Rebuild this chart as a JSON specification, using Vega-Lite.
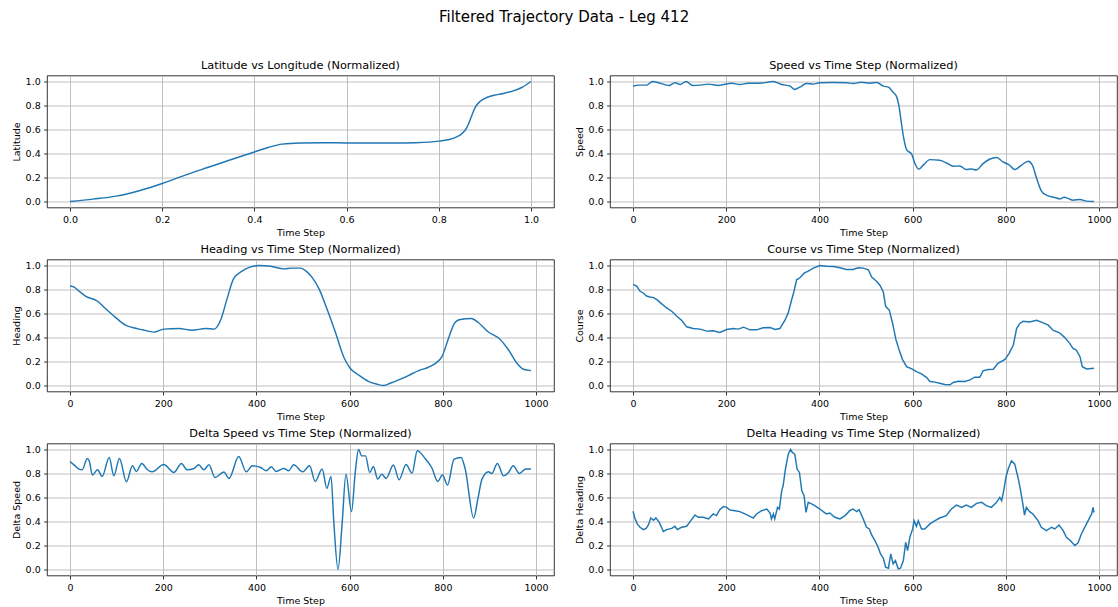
{
  "$schema": "https://vega.github.io/schema/vega-lite/v6.json",
  "padding": {"left": 10, "top": 9.5, "right": 0, "bottom": 0},
  "title": {"text": "Filtered Trajectory Data - Leg 412", "fontSize": 15, "offset": 34.7, "anchor": "middle", "frame": "bounds"},
  "datasets": {
    "latlon": [
      {"lon": 0.0, "lat": 0.0}, {"lon": 0.05, "lat": 0.02}, {"lon": 0.1, "lat": 0.045}, {"lon": 0.15, "lat": 0.09},
      {"lon": 0.2, "lat": 0.15}, {"lon": 0.25, "lat": 0.22}, {"lon": 0.3, "lat": 0.285}, {"lon": 0.35, "lat": 0.35},
      {"lon": 0.4, "lat": 0.413}, {"lon": 0.43, "lat": 0.45}, {"lon": 0.46, "lat": 0.478}, {"lon": 0.5, "lat": 0.488},
      {"lon": 0.55, "lat": 0.49}, {"lon": 0.6, "lat": 0.488}, {"lon": 0.65, "lat": 0.488}, {"lon": 0.7, "lat": 0.488},
      {"lon": 0.75, "lat": 0.49}, {"lon": 0.78, "lat": 0.495}, {"lon": 0.8, "lat": 0.503}, {"lon": 0.82, "lat": 0.515},
      {"lon": 0.84, "lat": 0.54}, {"lon": 0.85, "lat": 0.565}, {"lon": 0.86, "lat": 0.61}, {"lon": 0.865, "lat": 0.65},
      {"lon": 0.87, "lat": 0.7}, {"lon": 0.875, "lat": 0.75}, {"lon": 0.88, "lat": 0.79}, {"lon": 0.89, "lat": 0.835},
      {"lon": 0.9, "lat": 0.86}, {"lon": 0.91, "lat": 0.875}, {"lon": 0.92, "lat": 0.885}, {"lon": 0.94, "lat": 0.9},
      {"lon": 0.96, "lat": 0.92}, {"lon": 0.98, "lat": 0.95}, {"lon": 1.0, "lat": 1.0}
    ],
    "speed": [
      {"step": 0, "value": 0.96}, {"step": 11, "value": 0.97}, {"step": 29, "value": 0.97}, {"step": 42, "value": 1.0},
      {"step": 58, "value": 0.986}, {"step": 77, "value": 0.967}, {"step": 90, "value": 0.99}, {"step": 101, "value": 0.975},
      {"step": 114, "value": 1.0}, {"step": 128, "value": 0.967}, {"step": 144, "value": 0.97}, {"step": 162, "value": 0.978},
      {"step": 183, "value": 0.967}, {"step": 212, "value": 0.986}, {"step": 229, "value": 0.975}, {"step": 247, "value": 0.986},
      {"step": 272, "value": 0.986}, {"step": 301, "value": 1.0}, {"step": 319, "value": 0.975}, {"step": 337, "value": 0.961},
      {"step": 347, "value": 0.934}, {"step": 358, "value": 0.953}, {"step": 372, "value": 0.983}, {"step": 387, "value": 0.978},
      {"step": 401, "value": 0.99}, {"step": 430, "value": 0.992}, {"step": 458, "value": 0.99}, {"step": 472, "value": 0.983},
      {"step": 490, "value": 0.994}, {"step": 508, "value": 0.986}, {"step": 523, "value": 0.992}, {"step": 537, "value": 0.961},
      {"step": 548, "value": 0.953}, {"step": 558, "value": 0.91}, {"step": 565, "value": 0.878}, {"step": 571, "value": 0.787},
      {"step": 576, "value": 0.648}, {"step": 581, "value": 0.524}, {"step": 587, "value": 0.432}, {"step": 598, "value": 0.393},
      {"step": 605, "value": 0.316}, {"step": 613, "value": 0.269}, {"step": 623, "value": 0.305}, {"step": 637, "value": 0.349},
      {"step": 658, "value": 0.343}, {"step": 673, "value": 0.321}, {"step": 687, "value": 0.294}, {"step": 701, "value": 0.296},
      {"step": 715, "value": 0.266}, {"step": 726, "value": 0.271}, {"step": 737, "value": 0.263}, {"step": 751, "value": 0.316},
      {"step": 765, "value": 0.352}, {"step": 780, "value": 0.366}, {"step": 794, "value": 0.33}, {"step": 808, "value": 0.302},
      {"step": 819, "value": 0.266}, {"step": 833, "value": 0.302}, {"step": 848, "value": 0.335}, {"step": 857, "value": 0.302},
      {"step": 865, "value": 0.205}, {"step": 876, "value": 0.089}, {"step": 887, "value": 0.053}, {"step": 905, "value": 0.033},
      {"step": 916, "value": 0.022}, {"step": 925, "value": 0.036}, {"step": 944, "value": 0.011}, {"step": 959, "value": 0.017},
      {"step": 973, "value": 0.003}, {"step": 989, "value": 0.0}
    ],
    "heading": [
      {"step": 0, "value": 0.829}, {"step": 9, "value": 0.82}, {"step": 19, "value": 0.787}, {"step": 34, "value": 0.743},
      {"step": 59, "value": 0.702}, {"step": 76, "value": 0.641}, {"step": 98, "value": 0.566}, {"step": 119, "value": 0.503},
      {"step": 134, "value": 0.483}, {"step": 155, "value": 0.464}, {"step": 180, "value": 0.445}, {"step": 201, "value": 0.47},
      {"step": 234, "value": 0.475}, {"step": 262, "value": 0.461}, {"step": 291, "value": 0.475}, {"step": 309, "value": 0.47},
      {"step": 323, "value": 0.544}, {"step": 337, "value": 0.724}, {"step": 351, "value": 0.89}, {"step": 369, "value": 0.953},
      {"step": 386, "value": 0.986}, {"step": 405, "value": 1.0}, {"step": 430, "value": 0.994}, {"step": 459, "value": 0.972},
      {"step": 476, "value": 0.978}, {"step": 494, "value": 0.978}, {"step": 509, "value": 0.945}, {"step": 519, "value": 0.903},
      {"step": 534, "value": 0.807}, {"step": 551, "value": 0.641}, {"step": 569, "value": 0.448}, {"step": 587, "value": 0.24},
      {"step": 601, "value": 0.144}, {"step": 619, "value": 0.088}, {"step": 641, "value": 0.033}, {"step": 659, "value": 0.011},
      {"step": 673, "value": 0.0}, {"step": 687, "value": 0.019}, {"step": 705, "value": 0.047}, {"step": 726, "value": 0.083},
      {"step": 748, "value": 0.124}, {"step": 769, "value": 0.152}, {"step": 787, "value": 0.193}, {"step": 798, "value": 0.24},
      {"step": 812, "value": 0.392}, {"step": 826, "value": 0.525}, {"step": 837, "value": 0.55}, {"step": 861, "value": 0.558},
      {"step": 876, "value": 0.525}, {"step": 897, "value": 0.448}, {"step": 923, "value": 0.384}, {"step": 941, "value": 0.296},
      {"step": 959, "value": 0.185}, {"step": 973, "value": 0.135}, {"step": 989, "value": 0.124}
    ],
    "course": [
      {"step": 0, "value": 0.843}, {"step": 8, "value": 0.829}, {"step": 15, "value": 0.785}, {"step": 22, "value": 0.771},
      {"step": 29, "value": 0.746}, {"step": 36, "value": 0.738}, {"step": 44, "value": 0.732}, {"step": 51, "value": 0.715},
      {"step": 61, "value": 0.682}, {"step": 72, "value": 0.646}, {"step": 83, "value": 0.619}, {"step": 94, "value": 0.577},
      {"step": 104, "value": 0.544}, {"step": 115, "value": 0.489}, {"step": 129, "value": 0.475}, {"step": 144, "value": 0.47},
      {"step": 158, "value": 0.453}, {"step": 172, "value": 0.456}, {"step": 186, "value": 0.442}, {"step": 201, "value": 0.467},
      {"step": 215, "value": 0.475}, {"step": 226, "value": 0.47}, {"step": 237, "value": 0.486}, {"step": 251, "value": 0.464},
      {"step": 265, "value": 0.464}, {"step": 279, "value": 0.481}, {"step": 294, "value": 0.483}, {"step": 305, "value": 0.467},
      {"step": 315, "value": 0.475}, {"step": 326, "value": 0.544}, {"step": 333, "value": 0.605}, {"step": 340, "value": 0.71},
      {"step": 345, "value": 0.779}, {"step": 351, "value": 0.881}, {"step": 358, "value": 0.898}, {"step": 367, "value": 0.936},
      {"step": 376, "value": 0.953}, {"step": 387, "value": 0.978}, {"step": 401, "value": 1.0}, {"step": 415, "value": 0.994},
      {"step": 430, "value": 0.992}, {"step": 444, "value": 0.981}, {"step": 458, "value": 0.967}, {"step": 472, "value": 0.967},
      {"step": 483, "value": 0.981}, {"step": 494, "value": 0.978}, {"step": 505, "value": 0.964}, {"step": 512, "value": 0.903},
      {"step": 523, "value": 0.867}, {"step": 530, "value": 0.834}, {"step": 537, "value": 0.779}, {"step": 542, "value": 0.66},
      {"step": 550, "value": 0.627}, {"step": 557, "value": 0.517}, {"step": 564, "value": 0.384}, {"step": 571, "value": 0.296},
      {"step": 578, "value": 0.218}, {"step": 587, "value": 0.157}, {"step": 598, "value": 0.138}, {"step": 608, "value": 0.116},
      {"step": 619, "value": 0.097}, {"step": 630, "value": 0.066}, {"step": 637, "value": 0.033}, {"step": 648, "value": 0.028},
      {"step": 658, "value": 0.019}, {"step": 669, "value": 0.008}, {"step": 680, "value": 0.006}, {"step": 687, "value": 0.025},
      {"step": 698, "value": 0.036}, {"step": 712, "value": 0.033}, {"step": 723, "value": 0.047}, {"step": 733, "value": 0.069},
      {"step": 744, "value": 0.069}, {"step": 751, "value": 0.122}, {"step": 762, "value": 0.133}, {"step": 773, "value": 0.135},
      {"step": 783, "value": 0.185}, {"step": 798, "value": 0.218}, {"step": 807, "value": 0.268}, {"step": 816, "value": 0.337},
      {"step": 823, "value": 0.475}, {"step": 830, "value": 0.517}, {"step": 837, "value": 0.536}, {"step": 851, "value": 0.53},
      {"step": 866, "value": 0.544}, {"step": 880, "value": 0.522}, {"step": 891, "value": 0.503}, {"step": 901, "value": 0.461},
      {"step": 915, "value": 0.439}, {"step": 926, "value": 0.401}, {"step": 937, "value": 0.351}, {"step": 944, "value": 0.309},
      {"step": 951, "value": 0.296}, {"step": 959, "value": 0.24}, {"step": 964, "value": 0.157}, {"step": 973, "value": 0.138},
      {"step": 989, "value": 0.144}
    ],
    "dspeed": [
      {"step": 0, "value": 0.9}, {"step": 9, "value": 0.87}, {"step": 19, "value": 0.837}, {"step": 26, "value": 0.831},
      {"step": 37, "value": 0.925}, {"step": 41, "value": 0.906}, {"step": 48, "value": 0.787}, {"step": 59, "value": 0.831},
      {"step": 69, "value": 0.776}, {"step": 84, "value": 0.934}, {"step": 94, "value": 0.781}, {"step": 106, "value": 0.925},
      {"step": 121, "value": 0.731}, {"step": 134, "value": 0.864}, {"step": 142, "value": 0.817}, {"step": 154, "value": 0.884},
      {"step": 166, "value": 0.831}, {"step": 176, "value": 0.814}, {"step": 201, "value": 0.875}, {"step": 223, "value": 0.809},
      {"step": 239, "value": 0.884}, {"step": 251, "value": 0.831}, {"step": 266, "value": 0.842}, {"step": 276, "value": 0.873},
      {"step": 287, "value": 0.831}, {"step": 298, "value": 0.873}, {"step": 311, "value": 0.767}, {"step": 330, "value": 0.812},
      {"step": 341, "value": 0.759}, {"step": 362, "value": 0.942}, {"step": 378, "value": 0.814}, {"step": 391, "value": 0.864},
      {"step": 409, "value": 0.85}, {"step": 421, "value": 0.823}, {"step": 432, "value": 0.856}, {"step": 442, "value": 0.817},
      {"step": 459, "value": 0.842}, {"step": 469, "value": 0.823}, {"step": 480, "value": 0.873}, {"step": 499, "value": 0.814},
      {"step": 514, "value": 0.864}, {"step": 526, "value": 0.734}, {"step": 541, "value": 0.837}, {"step": 551, "value": 0.676},
      {"step": 560, "value": 0.776}, {"step": 566, "value": 0.393}, {"step": 575, "value": 0.0}, {"step": 584, "value": 0.393},
      {"step": 592, "value": 0.795}, {"step": 604, "value": 0.482}, {"step": 612, "value": 0.809}, {"step": 619, "value": 1.0},
      {"step": 626, "value": 0.947}, {"step": 634, "value": 0.947}, {"step": 643, "value": 0.809}, {"step": 651, "value": 0.859},
      {"step": 660, "value": 0.753}, {"step": 669, "value": 0.795}, {"step": 678, "value": 0.759}, {"step": 694, "value": 0.87},
      {"step": 706, "value": 0.748}, {"step": 721, "value": 0.875}, {"step": 734, "value": 0.803}, {"step": 745, "value": 0.989},
      {"step": 762, "value": 0.925}, {"step": 776, "value": 0.85}, {"step": 789, "value": 0.734}, {"step": 799, "value": 0.787},
      {"step": 810, "value": 0.704}, {"step": 824, "value": 0.92}, {"step": 839, "value": 0.934}, {"step": 848, "value": 0.837},
      {"step": 866, "value": 0.429}, {"step": 875, "value": 0.587}, {"step": 884, "value": 0.753}, {"step": 898, "value": 0.814},
      {"step": 905, "value": 0.8}, {"step": 917, "value": 0.884}, {"step": 930, "value": 0.781}, {"step": 941, "value": 0.809},
      {"step": 951, "value": 0.864}, {"step": 964, "value": 0.8}, {"step": 978, "value": 0.837}, {"step": 989, "value": 0.837}
    ],
    "dheading": [
      {"step": 0, "value": 0.485}, {"step": 4, "value": 0.427}, {"step": 9, "value": 0.38}, {"step": 15, "value": 0.352},
      {"step": 22, "value": 0.332}, {"step": 28, "value": 0.343}, {"step": 33, "value": 0.371}, {"step": 38, "value": 0.43},
      {"step": 44, "value": 0.41}, {"step": 49, "value": 0.43}, {"step": 56, "value": 0.395}, {"step": 65, "value": 0.316},
      {"step": 72, "value": 0.332}, {"step": 83, "value": 0.343}, {"step": 90, "value": 0.36}, {"step": 95, "value": 0.332},
      {"step": 104, "value": 0.352}, {"step": 115, "value": 0.36}, {"step": 124, "value": 0.407}, {"step": 133, "value": 0.454},
      {"step": 140, "value": 0.435}, {"step": 151, "value": 0.435}, {"step": 162, "value": 0.421}, {"step": 172, "value": 0.463},
      {"step": 179, "value": 0.449}, {"step": 186, "value": 0.499}, {"step": 194, "value": 0.524}, {"step": 201, "value": 0.518},
      {"step": 208, "value": 0.496}, {"step": 219, "value": 0.49}, {"step": 229, "value": 0.482}, {"step": 240, "value": 0.463},
      {"step": 251, "value": 0.443}, {"step": 258, "value": 0.429}, {"step": 265, "value": 0.463}, {"step": 276, "value": 0.49},
      {"step": 287, "value": 0.504}, {"step": 294, "value": 0.471}, {"step": 297, "value": 0.421}, {"step": 301, "value": 0.463},
      {"step": 304, "value": 0.421}, {"step": 310, "value": 0.518}, {"step": 314, "value": 0.504}, {"step": 319, "value": 0.657},
      {"step": 322, "value": 0.698}, {"step": 327, "value": 0.837}, {"step": 333, "value": 0.961}, {"step": 338, "value": 1.0},
      {"step": 342, "value": 0.975}, {"step": 347, "value": 0.961}, {"step": 352, "value": 0.837}, {"step": 357, "value": 0.809},
      {"step": 362, "value": 0.657}, {"step": 367, "value": 0.615}, {"step": 371, "value": 0.476}, {"step": 376, "value": 0.56},
      {"step": 383, "value": 0.546}, {"step": 390, "value": 0.532}, {"step": 401, "value": 0.504}, {"step": 408, "value": 0.482},
      {"step": 415, "value": 0.463}, {"step": 422, "value": 0.471}, {"step": 433, "value": 0.435}, {"step": 444, "value": 0.421},
      {"step": 455, "value": 0.449}, {"step": 465, "value": 0.49}, {"step": 472, "value": 0.504}, {"step": 480, "value": 0.482},
      {"step": 485, "value": 0.499}, {"step": 494, "value": 0.421}, {"step": 501, "value": 0.352}, {"step": 507, "value": 0.338},
      {"step": 512, "value": 0.288}, {"step": 519, "value": 0.241}, {"step": 526, "value": 0.186}, {"step": 531, "value": 0.13},
      {"step": 537, "value": 0.094}, {"step": 542, "value": 0.019}, {"step": 548, "value": 0.011}, {"step": 553, "value": 0.13},
      {"step": 558, "value": 0.047}, {"step": 563, "value": 0.075}, {"step": 569, "value": 0.006}, {"step": 574, "value": 0.011},
      {"step": 580, "value": 0.075}, {"step": 585, "value": 0.227}, {"step": 589, "value": 0.158}, {"step": 594, "value": 0.269},
      {"step": 600, "value": 0.338}, {"step": 603, "value": 0.407}, {"step": 608, "value": 0.36}, {"step": 612, "value": 0.407},
      {"step": 619, "value": 0.338}, {"step": 626, "value": 0.338}, {"step": 637, "value": 0.38}, {"step": 648, "value": 0.407},
      {"step": 658, "value": 0.429}, {"step": 672, "value": 0.449}, {"step": 683, "value": 0.504}, {"step": 694, "value": 0.537},
      {"step": 705, "value": 0.518}, {"step": 715, "value": 0.537}, {"step": 726, "value": 0.518}, {"step": 737, "value": 0.551},
      {"step": 748, "value": 0.56}, {"step": 758, "value": 0.532}, {"step": 769, "value": 0.518}, {"step": 780, "value": 0.56},
      {"step": 787, "value": 0.601}, {"step": 791, "value": 0.573}, {"step": 796, "value": 0.67}, {"step": 800, "value": 0.767},
      {"step": 805, "value": 0.837}, {"step": 812, "value": 0.906}, {"step": 819, "value": 0.878}, {"step": 826, "value": 0.767},
      {"step": 831, "value": 0.67}, {"step": 837, "value": 0.532}, {"step": 840, "value": 0.454}, {"step": 844, "value": 0.518},
      {"step": 851, "value": 0.482}, {"step": 858, "value": 0.463}, {"step": 869, "value": 0.407}, {"step": 876, "value": 0.352},
      {"step": 887, "value": 0.324}, {"step": 898, "value": 0.352}, {"step": 905, "value": 0.338}, {"step": 914, "value": 0.371},
      {"step": 923, "value": 0.324}, {"step": 930, "value": 0.269}, {"step": 938, "value": 0.241}, {"step": 948, "value": 0.2},
      {"step": 955, "value": 0.222}, {"step": 962, "value": 0.296}, {"step": 973, "value": 0.38}, {"step": 984, "value": 0.463},
      {"step": 987, "value": 0.518}, {"step": 989, "value": 0.475}
    ]
  },
  "columns": 2,
  "bounds": "flush",
  "spacing": {"row": 52, "column": 56},
  "concat": [
    {
      "title": "Latitude vs Longitude (Normalized)",
      "width": 507, "height": 132,
      "data": {"name": "latlon"},
      "mark": {"type": "line", "color": "#1f77b4", "strokeWidth": 1.45, "interpolate": "monotone"},
      "encoding": {
        "x": {"field": "lon", "type": "quantitative", "title": "Time Step",
              "scale": {"domain": [-0.05, 1.05], "nice": false, "zero": false},
              "axis": {"values": [0, 0.2, 0.4, 0.6, 0.8, 1.0], "format": ".1f"}},
        "y": {"field": "lat", "type": "quantitative", "title": "Latitude",
              "scale": {"domain": [-0.05, 1.05], "nice": false, "zero": false},
              "axis": {"values": [0, 0.2, 0.4, 0.6, 0.8, 1.0], "format": ".1f"}}
      }
    },
    {
      "title": "Speed vs Time Step (Normalized)",
      "width": 507, "height": 132,
      "data": {"name": "speed"},
      "mark": {"type": "line", "color": "#1f77b4", "strokeWidth": 1.45, "interpolate": "monotone"},
      "encoding": {
        "x": {"field": "step", "type": "quantitative", "title": "Time Step",
              "scale": {"domain": [-49.45, 1038.45], "nice": false, "zero": false},
              "axis": {"values": [0, 200, 400, 600, 800, 1000], "format": "d"}},
        "y": {"field": "value", "type": "quantitative", "title": "Speed",
              "scale": {"domain": [-0.05, 1.05], "nice": false, "zero": false},
              "axis": {"values": [0, 0.2, 0.4, 0.6, 0.8, 1.0], "format": ".1f"}}
      }
    },
    {
      "title": "Heading vs Time Step (Normalized)",
      "width": 507, "height": 132,
      "data": {"name": "heading"},
      "mark": {"type": "line", "color": "#1f77b4", "strokeWidth": 1.45, "interpolate": "monotone"},
      "encoding": {
        "x": {"field": "step", "type": "quantitative", "title": "Time Step",
              "scale": {"domain": [-49.45, 1038.45], "nice": false, "zero": false},
              "axis": {"values": [0, 200, 400, 600, 800, 1000], "format": "d"}},
        "y": {"field": "value", "type": "quantitative", "title": "Heading",
              "scale": {"domain": [-0.05, 1.05], "nice": false, "zero": false},
              "axis": {"values": [0, 0.2, 0.4, 0.6, 0.8, 1.0], "format": ".1f"}}
      }
    },
    {
      "title": "Course vs Time Step (Normalized)",
      "width": 507, "height": 132,
      "data": {"name": "course"},
      "mark": {"type": "line", "color": "#1f77b4", "strokeWidth": 1.45},
      "encoding": {
        "x": {"field": "step", "type": "quantitative", "title": "Time Step",
              "scale": {"domain": [-49.45, 1038.45], "nice": false, "zero": false},
              "axis": {"values": [0, 200, 400, 600, 800, 1000], "format": "d"}},
        "y": {"field": "value", "type": "quantitative", "title": "Course",
              "scale": {"domain": [-0.05, 1.05], "nice": false, "zero": false},
              "axis": {"values": [0, 0.2, 0.4, 0.6, 0.8, 1.0], "format": ".1f"}}
      }
    },
    {
      "title": "Delta Speed vs Time Step (Normalized)",
      "width": 507, "height": 132,
      "data": {"name": "dspeed"},
      "mark": {"type": "line", "color": "#1f77b4", "strokeWidth": 1.45, "interpolate": "monotone"},
      "encoding": {
        "x": {"field": "step", "type": "quantitative", "title": "Time Step",
              "scale": {"domain": [-49.45, 1038.45], "nice": false, "zero": false},
              "axis": {"values": [0, 200, 400, 600, 800, 1000], "format": "d"}},
        "y": {"field": "value", "type": "quantitative", "title": "Delta Speed",
              "scale": {"domain": [-0.05, 1.05], "nice": false, "zero": false},
              "axis": {"values": [0, 0.2, 0.4, 0.6, 0.8, 1.0], "format": ".1f"}}
      }
    },
    {
      "title": "Delta Heading vs Time Step (Normalized)",
      "width": 507, "height": 132,
      "data": {"name": "dheading"},
      "mark": {"type": "line", "color": "#1f77b4", "strokeWidth": 1.45},
      "encoding": {
        "x": {"field": "step", "type": "quantitative", "title": "Time Step",
              "scale": {"domain": [-49.45, 1038.45], "nice": false, "zero": false},
              "axis": {"values": [0, 200, 400, 600, 800, 1000], "format": "d"}},
        "y": {"field": "value", "type": "quantitative", "title": "Delta Heading",
              "scale": {"domain": [-0.05, 1.05], "nice": false, "zero": false},
              "axis": {"values": [0, 0.2, 0.4, 0.6, 0.8, 1.0], "format": ".1f"}}
      }
    }
  ],
  "config": {
    "font": "DejaVu Sans",
    "background": "#ffffff",
    "view": {"stroke": "#000000", "strokeWidth": 0.8},
    "axis": {
      "domain": false, "grid": true, "gridColor": "#b0b0b0", "gridWidth": 0.8,
      "ticks": true, "tickColor": "#000000", "tickSize": 3.4, "tickWidth": 0.8,
      "labelFont": "DejaVu Sans", "labelFontSize": 9.5, "labelColor": "#000000", "labelPadding": 3.4,
      "labelFlush": false, "labelOverlap": false,
      "titleFont": "DejaVu Sans", "titleFontSize": 9.5, "titleFontWeight": "normal", "titleColor": "#000000", "titlePadding": 3.9
    },
    "title": {"font": "DejaVu Sans", "fontSize": 11.3, "fontWeight": "normal", "color": "#000000", "offset": 4.5, "anchor": "middle"}
  }
}
